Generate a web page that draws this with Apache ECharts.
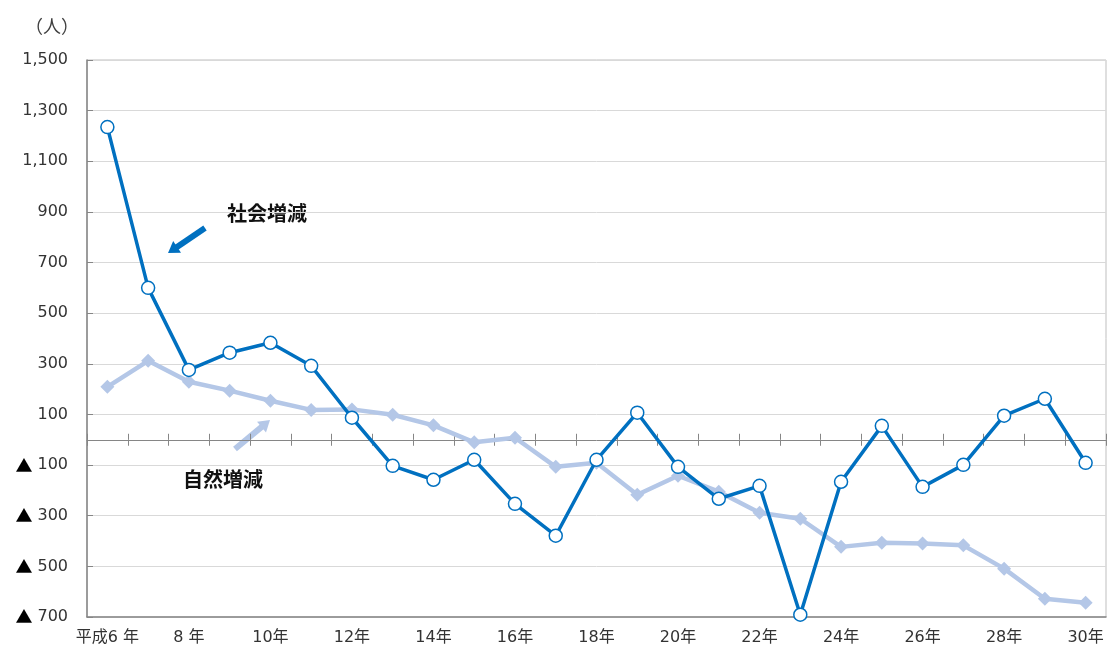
<!DOCTYPE html>
<html><head><meta charset="utf-8">
<script src="https://cdn.jsdelivr.net/npm/echarts@6/dist/echarts.min.js"></script>
<style>html,body{margin:0;padding:0;background:#fff}#c{width:1107px;height:650px}</style>
</head><body><div id="c"></div>
<script>
const years = ['平成6年','7年','8年','9年','10年','11年','12年','13年','14年','15年','16年','17年','18年','19年','20年','21年','22年','23年','24年','25年','26年','27年','28年','29年','30年'];
const socialChange = [1235,600,276,344,383,292,87,-103,-158,-79,-253,-379,-79,107,-107,-233,-182,-691,-166,55,-186,-99,95,162,-91];
const naturalChange = [209,312,229,194,154,118,120,99,57,-10,8,-107,-91,-217,-142,-205,-288,-312,-423,-407,-410,-417,-509,-628,-644];
const yMin = -700, yMax = 1500, yStep = 200;

const FONT = '"Noto Sans CJK JP","Noto Sans",sans-serif';
const NUMFONT = '"DejaVu Sans","Noto Sans CJK JP",sans-serif';
const AX = '#868686';
const DARK = '#0070C0', LIGHT = '#B4C7E7';

function arrow(x1, y1, x2, y2, w, hl, hw, color) {
  const dx = x2 - x1, dy = y2 - y1, L = Math.hypot(dx, dy);
  const ux = dx / L, uy = dy / L, nx = -uy, ny = ux;
  const bx = x2 - ux * hl, by = y2 - uy * hl;
  return [
    {type:'line', shape:{x1:x1, y1:y1, x2:bx + ux, y2:by + uy}, style:{stroke:color, lineWidth:w}},
    {type:'polygon', shape:{points:[[x2,y2],[bx+nx*hw,by+ny*hw],[bx-nx*hw,by-ny*hw]]}, style:{fill:color}}
  ];
}

function xLabel(v) {
  if (v === '平成6年') return '平成6 年';
  if (v === '8年') return '8 年';
  return v;
}
function yLabel(v) {
  const s = Math.abs(v).toLocaleString('en-US');
  return v < 0 ? '{t|▲} ' + s : s;
}

const chart = echarts.init(document.getElementById('c'));
chart.setOption({
  animation: false,
  textStyle: {fontFamily: FONT},
  grid: {left: 87, right: 1, top: 60, bottom: 33, show: true, borderColor: '#BFBFBF', borderWidth: 1},
  xAxis: [
    {type:'category', data: years, position:'bottom',
     axisLine:{show:true, onZero:false, lineStyle:{color:AX, width:1.5}},
     axisTick:{show:false},
     axisLabel:{interval:1, margin:13, fontSize:16, color:'#333', fontFamily:NUMFONT, formatter:xLabel},
     splitLine:{show:false}},
    {type:'category', data: years, position:'bottom',
     axisLine:{show:true, onZero:true, onZeroAxisIndex:0, lineStyle:{color:AX, width:1}},
     axisTick:{show:true, interval:0, length:6, lineStyle:{color:AX}},
     axisLabel:{show:false}, splitLine:{show:false}},
    {type:'category', data: years, position:'bottom',
     axisLine:{show:true, onZero:true, onZeroAxisIndex:0, lineStyle:{color:AX, opacity:0}},
     axisTick:{show:true, inside:true, interval:0, length:6, lineStyle:{color:AX}},
     axisLabel:{show:false}, splitLine:{show:false}}
  ],
  yAxis: {type:'value', min:yMin, max:yMax, interval:yStep,
    axisLine:{show:true, lineStyle:{color:AX, width:1.5}},
    axisTick:{show:true, inside:true, length:6, lineStyle:{color:AX}},
    axisLabel:{fontSize:16, color:'#333', margin:19, fontFamily:NUMFONT, formatter:yLabel,
      rich:{t:{fontSize:17, color:'#000', fontFamily:FONT}}},
    splitLine:{lineStyle:{color:'#D9D9D9', width:1}}},
  series: [
    {name:'自然増減', type:'line', data:naturalChange, xAxisIndex:0, symbol:'diamond', symbolSize:14,
     lineStyle:{color:LIGHT, width:4.5}, itemStyle:{color:LIGHT}, z:2},
    {name:'社会増減', type:'line', data:socialChange, xAxisIndex:0, symbol:'circle', symbolSize:13,
     lineStyle:{color:DARK, width:3.5}, itemStyle:{color:'#fff', borderColor:DARK, borderWidth:1.5}, z:3}
  ],
  graphic: [
    {type:'text', style:{text:'（人）', x:52, y:26, fontSize:18, fill:'#404040', fontFamily:FONT, align:'center', verticalAlign:'middle'}},
    {type:'text', style:{text:'社会増減', x:267, y:213, fontSize:20, fontWeight:'bold', fill:'#111', fontFamily:FONT, align:'center', verticalAlign:'middle'}},
    {type:'text', style:{text:'自然増減', x:223, y:479, fontSize:20, fontWeight:'bold', fill:'#111', fontFamily:FONT, align:'center', verticalAlign:'middle'}}
  ].concat(arrow(205, 228, 168, 253, 6, 11, 7, DARK)).concat(arrow(235, 449, 270, 420, 6, 11, 7, LIGHT))
});
</script>
</body></html>
